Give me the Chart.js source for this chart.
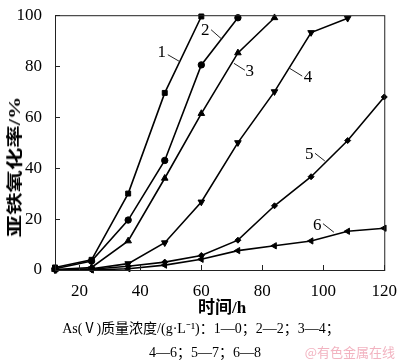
<!DOCTYPE html>
<html>
<head>
<meta charset="utf-8">
<script src="https://cdn.jsdelivr.net/npm/chart.js@4.4.1/dist/chart.umd.min.js"></script>
<style>
  body { margin: 0; background: #fff; }
  #wrap { position: relative; width: 400px; height: 361px; overflow: hidden; }
  #c { position: absolute; left: 0; top: 0; }
  .txt { position: absolute; white-space: nowrap; color: #000;
         font-family: "Liberation Serif", "Noto Sans CJK SC", serif; }
</style>
</head>
<body>
<div id="wrap">
  <canvas id="c" width="400" height="361"></canvas>
  <div class="txt" id="ytitle" style="left:13px;top:167px;font-size:16px;font-weight:bold;transform:translate(-50%,-50%) rotate(-90deg) scale(1.4,1);">亚铁氧化率/%</div>
  <div class="txt" id="xtitle" style="left:222px;top:305px;font-size:17px;font-weight:bold;transform:translate(-50%,-50%);">时间/h</div>
  <div class="txt" style="left:201px;top:327px;font-size:14px;transform:translate(-50%,-50%);">As(Ⅴ)质量浓度/(g·L⁻¹)：1—0；2—2；3—4；</div>
  <div class="txt" style="left:205px;top:351px;font-size:14px;transform:translate(-50%,-50%);">4—6；5—7；6—8</div>
  <div class="txt" style="right:5px;top:351px;font-size:13px;color:#f2b3c0;font-family:'Noto Sans CJK SC',sans-serif;transform:translateY(-50%);">@有色金属在线</div>
</div>
<script>
// sampling times (h)
const hours = [12, 24, 36, 48, 60, 72, 84, 96, 108, 120];

// ferrous oxidation rate (%) for each As(V) concentration
const s1 = [1, 4, 30, 69.5, 99.5];
const s2 = [0.5, 3.5, 19.6, 43, 80.5, 99];
const s3 = [0.2, 1, 11.4, 36, 61.4, 85.2, 99];
const s4 = [0, 0.5, 2.5, 10.7, 26.7, 50, 70, 93.2, 98.8];
const s5 = [0, 0.3, 1.5, 3.1, 5.7, 11.7, 25.2, 36.6, 50.8, 67.9];
const s6 = [0, 0, 0.5, 1.9, 4.2, 7.6, 9.5, 11.4, 15.2, 16.4];

const xTicks = [20, 40, 60, 80, 100, 120];
const yTicks = [0, 20, 40, 60, 80, 100];

// curve labels: text position and leader line, in data units
const curveLabels = [
  { text: '1', x: 47.0, y: 85.2, from: [49.0, 84.5], to: [52.9, 81.8] },
  { text: '2', x: 61.3, y: 93.9, from: [63.2, 94.3], to: [66.8, 90.5] },
  { text: '3', x: 75.9, y: 77.7, from: [70.7, 81.1], to: [74.3, 78.4] },
  { text: '4', x: 95.0, y: 75.4, from: [88.9, 79.2], to: [93.1, 76.1] },
  { text: '5', x: 95.4, y: 45.5, from: [97.3, 45.8], to: [100.5, 42.8] },
  { text: '6', x: 98.0, y: 17.4, from: [99.9, 18.2], to: [103.5, 14.8] }
];

function toPoints(vals) {
  return vals.map((v, i) => ({ x: hours[i], y: v }));
}

function makeSet(vals, style, radius, rotation) {
  return {
    data: toPoints(vals),
    borderColor: '#000',
    backgroundColor: '#000',
    borderWidth: 1.6,
    pointStyle: style,
    pointRadius: radius,
    pointRotation: rotation || 0,
    pointBorderWidth: 1,
    tension: 0,
    clip: false
  };
}

const tickFont = { family: '"Liberation Serif", serif', size: 17 };

// frame, inward ticks and curve labels
const framePlugin = {
  id: 'frame',
  afterDraw(chart) {
    const c = chart.ctx;
    const a = chart.chartArea;
    const xs = chart.scales.x, ys = chart.scales.y;
    c.save();
    c.strokeStyle = '#222';
    c.lineWidth = 1;
    c.strokeRect(a.left + 0.5, a.top + 0.5, a.right - a.left, a.bottom - a.top);
    c.beginPath();
    xTicks.forEach(v => {
      const px = Math.round(xs.getPixelForValue(v)) + 0.5;
      c.moveTo(px, a.bottom);
      c.lineTo(px, a.bottom - 5);
    });
    yTicks.forEach(v => {
      const py = Math.round(ys.getPixelForValue(v)) + 0.5;
      c.moveTo(a.left, py);
      c.lineTo(a.left + 5, py);
    });
    c.stroke();

    c.fillStyle = '#000';
    c.font = '17px "Liberation Serif", serif';
    c.textAlign = 'center';
    c.textBaseline = 'middle';
    c.lineWidth = 1;
    curveLabels.forEach(l => {
      c.fillText(l.text, xs.getPixelForValue(l.x), ys.getPixelForValue(l.y));
      c.beginPath();
      c.moveTo(xs.getPixelForValue(l.from[0]), ys.getPixelForValue(l.from[1]));
      c.lineTo(xs.getPixelForValue(l.to[0]), ys.getPixelForValue(l.to[1]));
      c.stroke();
    });
    c.restore();
  }
};

const ctx = document.getElementById('c').getContext('2d');
const chart = new Chart(ctx, {
  type: 'line',
  data: {
    datasets: [
      makeSet(s1, 'rect', 3.5),
      makeSet(s2, 'circle', 3.2),
      makeSet(s3, 'triangle', 3.8),
      makeSet(s4, 'triangle', 3.8, 180),
      makeSet(s5, 'rectRot', 3),
      makeSet(s6, 'triangle', 3.6, -90)
    ]
  },
  options: {
    responsive: false,
    animation: false,
    devicePixelRatio: 1,
    layout: { padding: { top: 6, right: 12, left: 0, bottom: 0 } },
    plugins: { legend: { display: false }, tooltip: { enabled: false } },
    scales: {
      x: {
        type: 'linear',
        min: 12,
        max: 120,
        afterBuildTicks: s => { s.ticks = xTicks.map(v => ({ value: v })); },
        afterFit: s => { s.height = 91; },
        grid: { display: false },
        border: { display: false },
        ticks: { font: tickFont, color: '#000', padding: 3, maxRotation: 0 }
      },
      y: {
        type: 'linear',
        min: 0,
        max: 100,
        afterBuildTicks: s => { s.ticks = yTicks.map(v => ({ value: v })); },
        afterFit: s => { s.width = 55; },
        grid: { display: false },
        border: { display: false },
        ticks: { font: tickFont, color: '#000', padding: 5 }
      }
    }
  },
  plugins: [framePlugin]
});
</script>
</body>
</html>
